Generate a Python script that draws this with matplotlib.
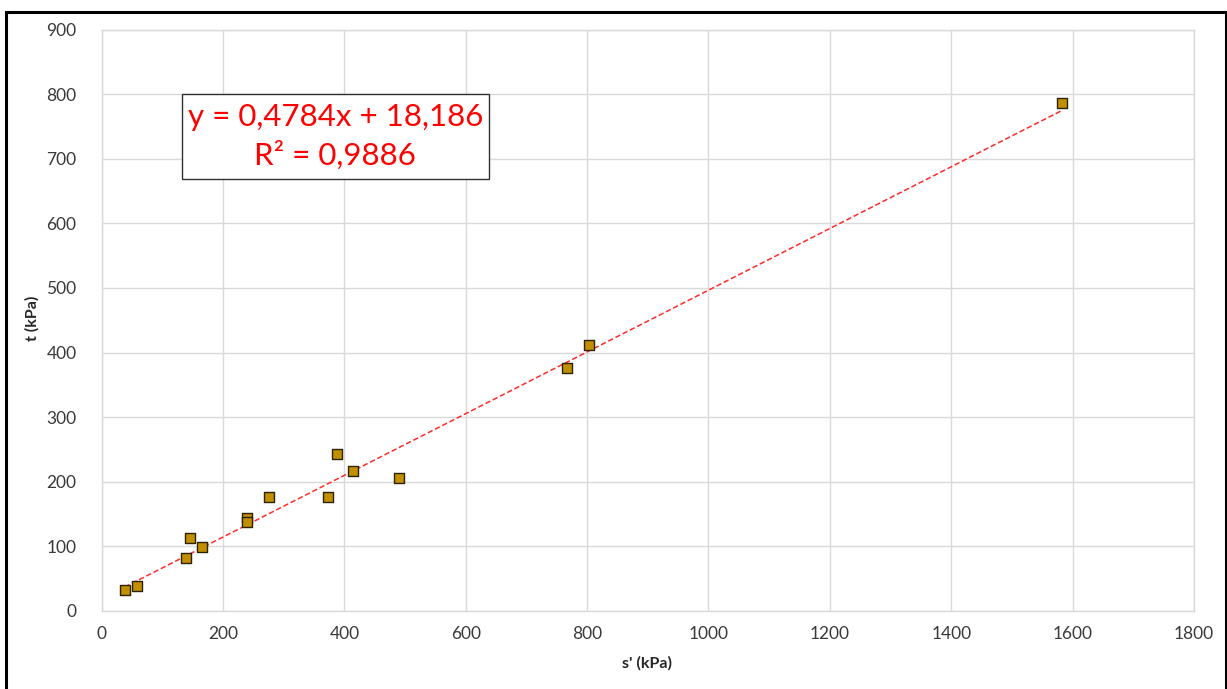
import matplotlib.pyplot as plt
from matplotlib.patches import Rectangle
import numpy as np

plt.rcParams['font.family'] = ['Lato', 'DejaVu Sans']

# effective mean stress s' and deviator half-stress t, both in kPa
s_eff = [38, 59, 139, 145, 165, 240, 240, 276, 373, 388, 414, 490, 767, 803, 1582]
t_val = [32, 38, 81, 113, 98, 144, 137, 176, 176, 242, 217, 206, 376, 411, 787]

# linear trend line coefficients and fit quality
slope = 0.4784
intercept = 18.186
r_squared = 0.9886

x_ticks = [0, 200, 400, 600, 800, 1000, 1200, 1400, 1600, 1800]
y_ticks = [0, 100, 200, 300, 400, 500, 600, 700, 800, 900]

fig = plt.figure(figsize=(12.27, 6.89), dpi=100)
ax = fig.add_axes([0.0828, 0.1139, 0.8903, 0.8426])

# trend line across the range of the data
xs = np.array([min(s_eff), max(s_eff)])
ax.plot(xs, slope * xs + intercept, color='#ff2a2a', lw=1.1,
        linestyle=(0, (3.5, 1.8)), zorder=2)

ax.scatter(s_eff, t_val, marker='s', s=62, c='#c18f00',
           edgecolors='#2b2200', linewidths=1.0, zorder=3)

ax.set_xlim(0, 1800)
ax.set_ylim(0, 900)
ax.set_xticks(x_ticks)
ax.set_yticks(y_ticks)
ax.grid(True, color='#d9d9d9', lw=1.0)
ax.set_axisbelow(True)
for sp in ax.spines.values():
    sp.set_color('#d9d9d9')
    sp.set_linewidth(1.0)
ax.tick_params(length=0, labelsize=12.5, labelcolor='#3a3a3a')
ax.tick_params(axis='x', pad=11)
ax.tick_params(axis='y', pad=18)

ax.set_xlabel("s' (kPa)", fontsize=11.5, fontweight='bold', color='#262626')
ax.set_ylabel('t (kPa)', fontsize=11.5, fontweight='bold', color='#262626')
ax.xaxis.set_label_coords(0.499, -0.078)
ax.yaxis.set_label_coords(-0.0564, 0.504)

# equation label with its own frame
ax.add_patch(Rectangle((132, 669), 506, 132, fc='white', ec='#303030',
                       lw=1.0, zorder=4))
eq = f'y = {slope:.4f}x + {intercept:.3f}'.replace('.', ',')
r2 = f'R² = {r_squared:.4f}'.replace('.', ',')
ax.text(385, 735, eq + '\n' + r2, ha='center', va='center', fontsize=22.5,
        color='#ff0000', linespacing=1.38, zorder=5)

# outer frame around the chart
fig.patches.append(Rectangle((0.0049, -0.05), 0.9943, 1.032, transform=fig.transFigure,
                             fill=False, ec='black', lw=2.2))

fig.savefig('out.png', dpi=100)
